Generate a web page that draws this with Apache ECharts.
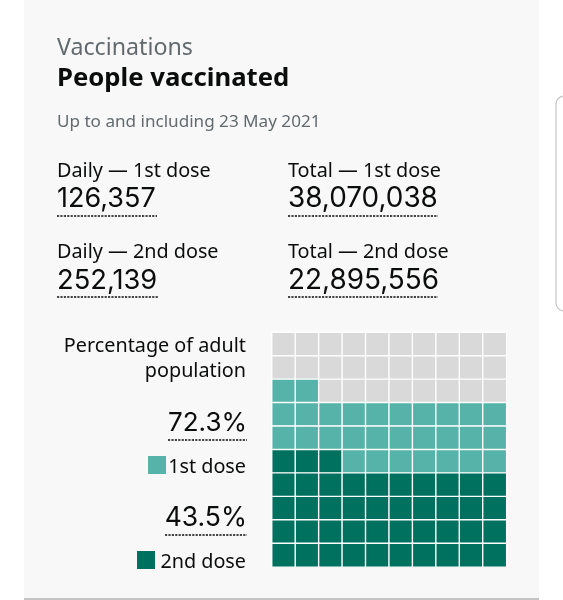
<!DOCTYPE html>
<html>
<head>
<meta charset="utf-8">
<style>
html, body { margin: 0; padding: 0; background: #fff; }
#chart { width: 563px; height: 600px; }
</style>
<script src="https://cdn.jsdelivr.net/npm/echarts@6/dist/echarts.min.js"></script>
</head>
<body>
<div id="chart"></div>
<script>
const rows = ['r1', 'r2', 'r3', 'r4', 'r5', 'r6', 'r7', 'r8', 'r9', 'r10'];
const columns = ['c1', 'c2', 'c3', 'c4', 'c5', 'c6', 'c7', 'c8', 'c9', 'c10'];
// squares per dose, read off the waffle (0 = not vaccinated, 1 = 1st, 2 = 2nd)
const row1 = [0, 0, 0, 0, 0, 0, 0, 0, 0, 0];
const row2 = [0, 0, 0, 0, 0, 0, 0, 0, 0, 0];
const row3 = [1, 1, 0, 0, 0, 0, 0, 0, 0, 0];
const row4 = [1, 1, 1, 1, 1, 1, 1, 1, 1, 1];
const row5 = [1, 1, 1, 1, 1, 1, 1, 1, 1, 1];
const row6 = [2, 2, 2, 1, 1, 1, 1, 1, 1, 1];
const row7 = [2, 2, 2, 2, 2, 2, 2, 2, 2, 2];
const row8 = [2, 2, 2, 2, 2, 2, 2, 2, 2, 2];
const row9 = [2, 2, 2, 2, 2, 2, 2, 2, 2, 2];
const row10 = [2, 2, 2, 2, 2, 2, 2, 2, 2, 2];
const waffle = [row1, row2, row3, row4, row5, row6, row7, row8, row9, row10];

const heading = 'Vaccinations';
const title = 'People vaccinated';
const updated = 'Up to and including 23 May 2021';
const statLabels = ['Daily — 1st dose', 'Total — 1st dose', 'Daily — 2nd dose', 'Total — 2nd dose'];
const statValues = ['126,357', '38,070,038', '252,139', '22,895,556'];
const percentValues = ['72.3%', '43.5%'];
const doseNames = ['1st dose', '2nd dose'];

const font = '"Noto Sans", sans-serif';
const numFont = 'Inter, "Noto Sans", sans-serif';
const GREY = '#d9d9d9', LIGHT = '#56b3a9', DARK = '#00705f', INK = '#0b0c0c', MUTED = '#626a6e', PANEL = '#f8f8f8';

function text(x, y, str, size, color, align, weight, family) {
  return {
    type: 'text', x: x, y: y, z: 5,
    style: { text: str, fill: color || INK, fontSize: size, fontFamily: family || font,
      fontWeight: weight || 400, textAlign: align || 'left', textVerticalAlign: 'middle' }
  };
}

function dotted(x1, x2, y) {
  return {
    type: 'line', z: 5,
    shape: { x1: x1, y1: y, x2: x2, y2: y },
    style: { stroke: INK, lineWidth: 1.6, lineDash: [2.2, 1.2] }
  };
}

const data = [];
waffle.forEach(function (row, r) {
  row.forEach(function (v, c) { data.push([c, r, v]); });
});

const elements = [
  { type: 'rect', z: 0, shape: { x: 24, y: 0, width: 515, height: 598 }, style: { fill: PANEL } },
  { type: 'rect', z: 0, shape: { x: 24, y: 598, width: 515, height: 2 }, style: { fill: '#c4c4c4' } },
  { type: 'rect', z: 0, shape: { x: 556, y: 96, width: 20, height: 215, r: 8 }, style: { fill: '#fff', stroke: '#c4c4c4', lineWidth: 1.2 } },
  text(57, 48, heading, 23.2, MUTED),
  text(57, 79, title, 25.7, INK, 'left', 700),
  text(57, 122, updated, 17.1, MUTED),
  text(57, 171, statLabels[0], 19.8),
  text(288, 171, statLabels[1], 19.8),
  text(57, 199, statValues[0], 27, INK, 'left', 400, numFont),
  text(288, 199, statValues[1], 27.9, INK, 'left', 400, numFont),
  dotted(57, 157, 216),
  dotted(288, 438, 216),
  text(57, 252, statLabels[2], 19.8),
  text(288, 252, statLabels[3], 19.8),
  text(57, 281, statValues[2], 27.3, INK, 'left', 400, numFont),
  text(288, 281, statValues[3], 27.9, INK, 'left', 400, numFont),
  dotted(57, 158, 297),
  dotted(288, 438, 297),
  text(246, 346, 'Percentage of adult', 19.8, INK, 'right'),
  text(246, 371, 'population', 19.8, INK, 'right'),
  text(247, 423, percentValues[0], 26, INK, 'right', 400, numFont),
  dotted(168, 247, 440),
  { type: 'rect', z: 5, shape: { x: 148, y: 456, width: 18, height: 18 }, style: { fill: LIGHT } },
  text(246, 467, doseNames[0], 19.8, INK, 'right'),
  text(247, 518, percentValues[1], 26.5, INK, 'right', 400, numFont),
  dotted(165, 247, 535),
  { type: 'rect', z: 5, shape: { x: 137, y: 551, width: 18, height: 18 }, style: { fill: DARK } },
  text(246, 562, doseNames[1], 19.8, INK, 'right')
];

const chart = echarts.init(document.getElementById('chart'), null, { renderer: 'canvas' });
chart.setOption({
  animation: false,
  backgroundColor: '#fff',
  grid: { left: 272, top: 332.5, width: 234.4, height: 234.4 },
  xAxis: { type: 'category', data: columns, show: false },
  yAxis: { type: 'category', data: rows, inverse: true, show: false },
  visualMap: {
    show: false, type: 'piecewise', dimension: 2,
    pieces: [
      { value: 0, color: GREY },
      { value: 1, color: LIGHT },
      { value: 2, color: DARK }
    ]
  },
  graphic: { elements: elements },
  series: [{
    type: 'heatmap',
    data: data,
    z: 3,
    itemStyle: { borderColor: '#fdfdfd', borderWidth: 1.4 },
    emphasis: { disabled: true }
  }]
});
</script>
</body>
</html>
